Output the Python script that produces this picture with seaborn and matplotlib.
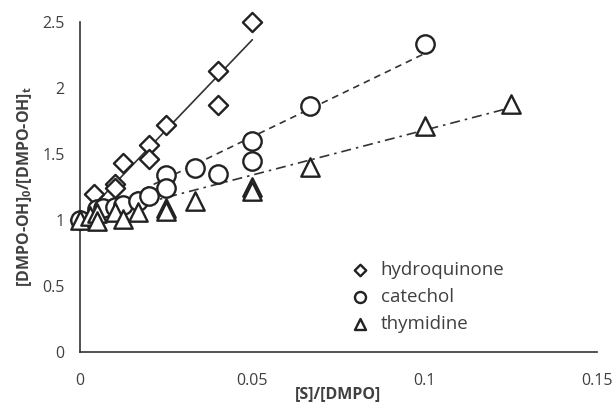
import numpy as np
import pandas as pd
import matplotlib
matplotlib.use("Agg")
import matplotlib.pyplot as plt
import seaborn as sns

# ---- data ----
hq_x = [0.0, 0.004, 0.01, 0.01, 0.0125, 0.02, 0.02, 0.025, 0.04, 0.04, 0.05]
hq_y = [1.0, 1.20, 1.27, 1.24, 1.43, 1.57, 1.46, 1.72, 2.13, 1.87, 2.50]

cat_x = [0.0, 0.005, 0.0067, 0.01, 0.0125, 0.0167, 0.02, 0.025, 0.025, 0.0333, 0.04, 0.05, 0.05, 0.0667, 0.1]
cat_y = [1.0, 1.08, 1.09, 1.10, 1.11, 1.14, 1.18, 1.34, 1.24, 1.39, 1.35, 1.60, 1.45, 1.86, 2.33]

thy_x = [0.0, 0.003, 0.005, 0.005, 0.01, 0.0125, 0.0167, 0.025, 0.025, 0.0333, 0.05, 0.05, 0.0667, 0.1, 0.125]
thy_y = [1.0, 1.03, 1.05, 0.99, 1.06, 1.01, 1.06, 1.09, 1.07, 1.14, 1.25, 1.22, 1.40, 1.71, 1.88]

# slopes of the drawn trend lines (intercept 1)
fit_slopes = [27.3, 12.6, 6.8]

names = ["hydroquinone", "catechol", "thymidine"]
x_ticks = [0, 0.05, 0.1, 0.15]
x_tick_labels = ["0", "0.05", "0.1", "0.15"]
y_ticks = [0, 0.5, 1, 1.5, 2, 2.5]
y_tick_labels = ["0", "0.5", "1", "1.5", "2", "2.5"]

df = pd.DataFrame({
    "x": hq_x + cat_x + thy_x,
    "y": hq_y + cat_y + thy_y,
    "compound": [names[0]] * len(hq_x) + [names[1]] * len(cat_x) + [names[2]] * len(thy_x),
})

sns.set_theme(style="white")
plt.rcParams["font.family"] = ["Open Sans", "DejaVu Sans"]

TXT = "#404040"
fig = plt.figure(figsize=(6.16, 4.05), dpi=100)
ax = fig.add_axes([0.130, 0.131, 0.839, 0.815])

styles = {names[0]: "-", names[1]: (0, (4, 3)), names[2]: (0, (6, 3, 1.5, 3))}
for nm, xs, k in [(names[0], hq_x, fit_slopes[0]), (names[1], cat_x, fit_slopes[1]), (names[2], thy_x, fit_slopes[2])]:
    xl = np.array([0, max(xs)])
    sns.lineplot(x=xl, y=1 + k * xl, color="#333333", lw=1.2, ls=styles[nm], ax=ax, zorder=1)

markers = {names[0]: "D", names[1]: "o", names[2]: "^"}
sizes = {names[0]: 95, names[1]: 175, names[2]: 175}
for nm in names:
    sub = df[df.compound == nm]
    sns.scatterplot(data=sub, x="x", y="y", marker=markers[nm], s=sizes[nm],
                    facecolor="white", edgecolor="#222222", linewidth=1.7,
                    ax=ax, label=nm, zorder=3, clip_on=False)

ax.set_xlim(0, 0.15)
ax.set_ylim(0, 2.5)
ax.set_xticks(x_ticks)
ax.set_xticklabels(x_tick_labels)
ax.set_yticks(y_ticks)
ax.set_yticklabels(y_tick_labels)
ax.tick_params(axis="both", colors="#333333", labelsize=11.5, length=5, width=1, direction="out",
               labelcolor=TXT)
ax.tick_params(axis="x", pad=10)
ax.tick_params(axis="y", pad=6)
for s in ["top", "right"]:
    ax.spines[s].set_visible(False)
for s in ["left", "bottom"]:
    ax.spines[s].set_color("#333333")
    ax.spines[s].set_linewidth(1.2)

ax.set_xlabel("[S]/[DMPO]", fontsize=11.5, fontweight="bold", color=TXT, labelpad=-2)
ax.set_ylabel(r"[DMPO-OH]$_\mathregular{0}$/[DMPO-OH]$_\mathregular{t}$", fontsize=11.5,
              fontweight="bold", color=TXT, labelpad=6)
ax.grid(False)

handles, labels = ax.get_legend_handles_labels()
leg = ax.legend(handles, labels, loc="lower left", bbox_to_anchor=(0.487, 0.006), frameon=False,
                fontsize=13.5, handletextpad=0.5, labelspacing=0.48, markerscale=0.6,
                handlelength=1.2)
for t in leg.get_texts():
    t.set_color(TXT)

fig.savefig("out.png", dpi=100)
